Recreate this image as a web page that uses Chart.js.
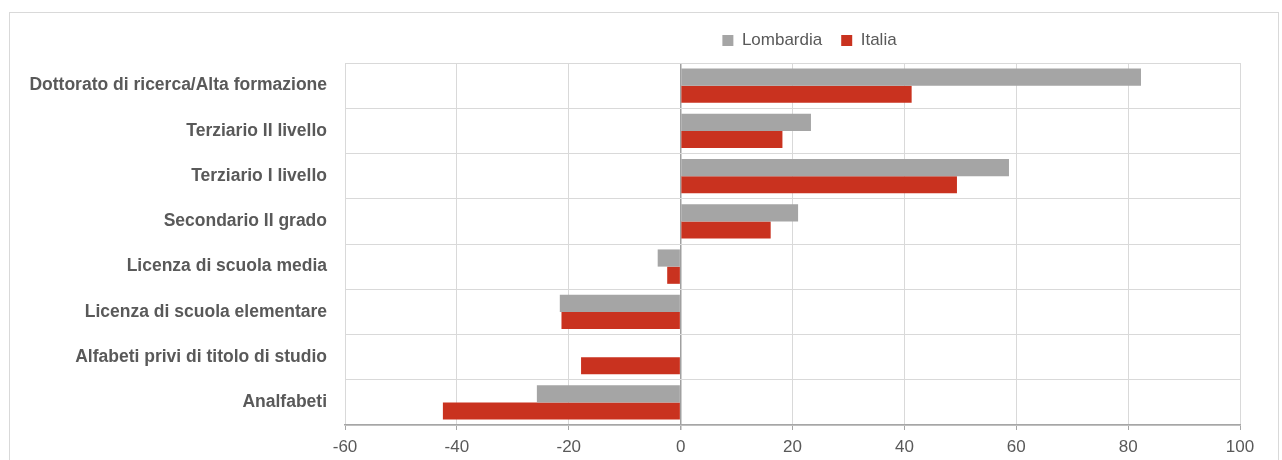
<!DOCTYPE html>
<html>
<head>
<meta charset="utf-8">
<script src="https://cdn.jsdelivr.net/npm/chart.js@4/dist/chart.umd.min.js"></script>
<style>
  html, body { margin: 0; padding: 0; background: #fff; }
  #wrap { position: relative; width: 1282px; height: 460px; overflow: hidden; }
  #frame { position: absolute; left: 9px; top: 12px; width: 1270px; height: 460px; border: 1px solid #d9d9d9; box-sizing: border-box; }
  canvas { position: absolute; left: 0; top: 0; }
</style>
</head>
<body>
<div id="wrap">
  <div id="frame"></div>
  <canvas id="eduChart" width="1282" height="460"></canvas>
</div>
<script>
// ======================
// Data
// ======================
const categories = [
    "Dottorato di ricerca/Alta formazione",
    "Terziario II livello",
    "Terziario I livello",
    "Secondario II grado",
    "Licenza di scuola media",
    "Licenza di scuola elementare",
    "Alfabeti privi di titolo di studio",
    "Analfabeti"
];
const lombardiaValues = [82.3, 23.3, 58.7, 21.0, -4.1, -21.6, null, -25.7];
const italiaValues = [41.3, 18.2, 49.4, 16.1, -2.4, -21.3, -17.8, -42.5];
const xTicks = [-60, -40, -20, 0, 20, 40, 60, 80, 100];

const FONT = "'Liberation Sans Narrow', 'Arial Narrow', 'Liberation Sans', Arial, sans-serif";
const TEXT = "#595959";

// center the legend over the plot area (Excel style) and lift it a bit
const legendOverPlot = {
    id: 'legendOverPlot',
    afterLayout(chart) {
        const lg = chart.legend;
        if (!lg) return;
        lg.left = chart.chartArea.left + 17;
        lg.right = chart.chartArea.right + 17;
        lg.top -= 4;
        lg.bottom -= 4;
    }
};

let ctx = document.getElementById("eduChart").getContext("2d");
new Chart(ctx, {
    type: 'bar',
    data: {
        labels: categories,
        datasets: [
            {
                label: 'Lombardia',
                data: lombardiaValues,
                backgroundColor: '#a5a5a5',
                borderWidth: 0
            },
            {
                label: 'Italia',
                data: italiaValues,
                backgroundColor: '#c9321f',
                borderWidth: 0
            }
        ]
    },
    options: {
        indexAxis: 'y',
        responsive: false,
        animation: false,
        layout: { padding: { top: 17, right: 42, left: 0, bottom: 0 } },
        datasets: { bar: { barPercentage: 1, categoryPercentage: 0.76 } },
        plugins: {
            legend: {
                position: 'top',
                labels: {
                    boxWidth: 11,
                    boxHeight: 11,
                    padding: 19,
                    color: TEXT,
                    font: { family: FONT, size: 17 }
                }
            },
            tooltip: { enabled: false }
        },
        scales: {
            x: {
                min: -60,
                max: 100,
                afterBuildTicks: function (scale) {
                    scale.ticks = xTicks.map(v => ({ value: v }));
                },
                afterFit: function (scale) { scale.height = 35; },
                grid: {
                    color: c => (c.tick && c.tick.value === 0) ? '#a0a0a0' : '#d9d9d9',
                    lineWidth: c => (c.tick && c.tick.value === 0) ? 1.5 : 1,
                    tickColor: '#a6a6a6',
                    tickLength: 5
                },
                border: { color: '#a6a6a6', width: 1.5 },
                ticks: {
                    color: TEXT,
                    padding: 7,
                    font: { family: FONT, size: 17 }
                }
            },
            y: {
                afterFit: function (scale) { scale.width = 345; },
                grid: {
                    offset: true,
                    color: '#d9d9d9',
                    drawTicks: false
                },
                border: { display: false },
                ticks: {
                    color: TEXT,
                    padding: 18,
                    font: { family: FONT, size: 17.5, weight: 'bold' }
                }
            }
        }
    },
    plugins: [legendOverPlot]
});
</script>
</body>
</html>
